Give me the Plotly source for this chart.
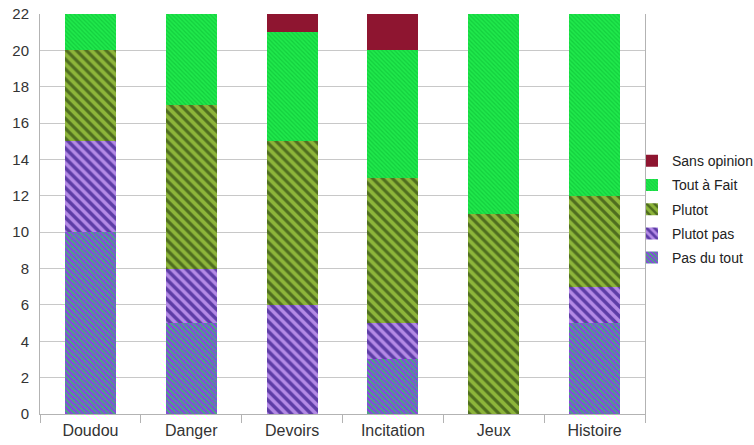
import plotly.graph_objects as go

categories = ["Doudou", "Danger", "Devoirs", "Incitation", "Jeux", "Histoire"]
pas_du_tout = [10, 5, 0, 3, 0, 5]
plutot_pas = [5, 3, 6, 2, 0, 2]
plutot = [5, 9, 9, 8, 11, 5]
tout_a_fait = [2, 5, 6, 7, 11, 10]
sans_opinion = [0, 0, 1, 2, 0, 0]

series = [
    ("Pas du tout", pas_du_tout, dict(shape="\\", fgcolor="#8a40e4", bgcolor="#3cc06a", size=4, solidity=0.62, fillmode="replace")),
    ("Plutot pas", plutot_pas, dict(shape="\\", fgcolor="#5d3da6", bgcolor="#b48ae6", size=7, solidity=0.5, fillmode="replace")),
    ("Plutot", plutot, dict(shape="\\", fgcolor="#4f6d1f", bgcolor="#8db53a", size=7, solidity=0.45, fillmode="replace")),
    ("Tout à Fait", tout_a_fait, dict(shape="\\", fgcolor="#13cf3e", bgcolor="#20e84c", size=3, solidity=0.4, fillmode="replace")),
    ("Sans opinion", sans_opinion, None),
]

fig = go.Figure()
for i, (name, vals, pat) in enumerate(series):
    marker = dict(color="#8e1530", line=dict(width=0))
    if pat is not None:
        marker["pattern"] = pat
        marker["color"] = pat["bgcolor"]
    fig.add_trace(go.Bar(name=name, x=categories, y=vals, marker=marker,
                         legendgroup=name, legendrank=1000 - i))

fig.update_layout(
    barmode="stack",
    bargap=0.494,
    width=754,
    height=445,
    margin=dict(l=40, r=109, t=14, b=31, autoexpand=False),
    plot_bgcolor="white",
    paper_bgcolor="white",
    font=dict(family="Liberation Sans, Arial, sans-serif", size=14, color="#333333"),
    legend=dict(
        x=0.9785, y=0.672, xanchor="left", yanchor="top",
        font=dict(size=14, color="#222222"),
        traceorder="grouped",
        itemwidth=30,
        tracegroupgap=3,
        bgcolor="rgba(0,0,0,0)",
    ),
)
fig.update_yaxes(
    range=[0, 22], dtick=2, showgrid=True, gridcolor="#c8c8c8", gridwidth=1,
    showline=True, linecolor="#b3b3b3", mirror=True, zeroline=False,
    ticks="", ticklabelstandoff=7, tickfont=dict(size=15, color="#333333"),
)
fig.update_xaxes(
    showline=True, linecolor="#b3b3b3", tickson="boundaries", ticks="outside",
    ticklen=8, tickcolor="#b3b3b3", ticklabelstandoff=2,
    tickfont=dict(size=16, color="#333333"),
)

fig.write_html("out.html")
